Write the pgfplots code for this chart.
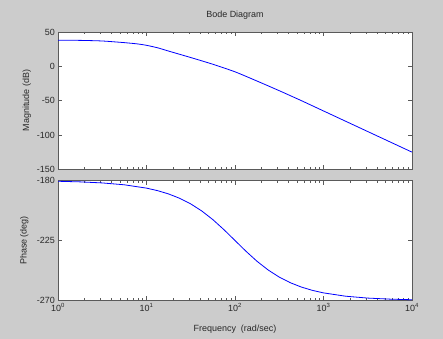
\documentclass[border=0pt]{standalone}
\usepackage{pgfplots}
\pgfplotsset{compat=1.18}
\usepackage{fontspec}
\setmainfont{Liberation Sans}
\definecolor{figbg}{RGB}{204,204,204}
\definecolor{axcol}{RGB}{90,90,90}
\definecolor{txtcol}{RGB}{40,40,40}
\pgfplotsset{
  bodeax/.style={
    scale only axis,
    width=354bp,
    xmin=1, xmax=10000,
    axis background/.style={fill=white},
    axis line style={axcol},
    every tick/.style={axcol},
    major tick length=4bp,
    minor tick length=2.5bp,
    tick align=inside,
    xtick={1,10,100,1000,10000},
    minor x tick num=8,
    tick label style={font=\fontsize{9}{10}\selectfont, text=txtcol},
    label style={font=\fontsize{9}{10}\selectfont, text=txtcol},
    /pgf/number format/assume math mode=true,
  }
}
\begin{document}
\fontsize{9}{10}\selectfont
\begin{tikzpicture}
\fill[figbg] (0,0) rectangle (443bp,339bp);
\begin{semilogxaxis}[bodeax,
  at={(58bp,169.7bp)}, anchor=south west,
  height=137.3bp,
  ymin=-150, ymax=50,
  ytick={-150,-100,-50,0,50},
  yticklabels={-150,-100,-50,0,50},
  xticklabels={},
  title={Bode Diagram},
  title style={at={(axis description cs:0.5,1)}, anchor=center, yshift=11bp, font=\fontsize{9}{10}\selectfont, text=txtcol},
  ylabel={Magnitude (dB)},
  ylabel style={at={(axis description cs:-0.088,0.5)}, anchor=center},
]
\addplot[blue, line width=0.8bp, smooth, tension=0.4] table[x=w, y=mag] {
w mag
1 38
1.778 37.8
3.162 36.9
5.623 34.5
7.943 32.6
10 30.6
13.34 27.0
17.78 22.2
31.62 12.8
56.23 3
100 -8
177.8 -21.5
316.2 -35.5
562.3 -50
1000 -65
1778 -80
3162 -95
5623 -110
10000 -125
};
\end{semilogxaxis}
\begin{semilogxaxis}[bodeax,
  at={(58bp,38.5bp)}, anchor=south west,
  height=120bp,
  ymin=-270, ymax=-180,
  ytick={-270,-225,-180},
  yticklabels={-270,-225,-180},
  xticklabels={10\textsuperscript{0},10\textsuperscript{1},10\textsuperscript{2},10\textsuperscript{3},10\textsuperscript{4}},
  xlabel={Frequency\ \ (rad/sec)},
  xlabel style={at={(axis description cs:0.5,0)}, anchor=center, yshift=-29bp},
  ylabel={Phase (deg)},
  ylabel style={at={(axis description cs:-0.095,0.5)}, anchor=center},
]
\addplot[blue, line width=0.8bp] table[x=w, y=ph] {
w ph
1 -180.57
1.778 -181.02
3.162 -181.81
5.623 -183.22
10 -185.71
13.34 -187.6
17.78 -190.08
23.71 -193.34
31.62 -197.55
42.17 -202.87
56.23 -209.35
74.99 -216.87
100 -225
133.4 -233.13
177.8 -240.65
237.1 -247.13
316.2 -252.45
421.7 -256.66
562.3 -259.92
749.9 -262.41
1000 -264.29
1778 -266.78
3162 -268.19
5623 -268.98
10000 -269.43
};
\end{semilogxaxis}
\end{tikzpicture}
\end{document}
